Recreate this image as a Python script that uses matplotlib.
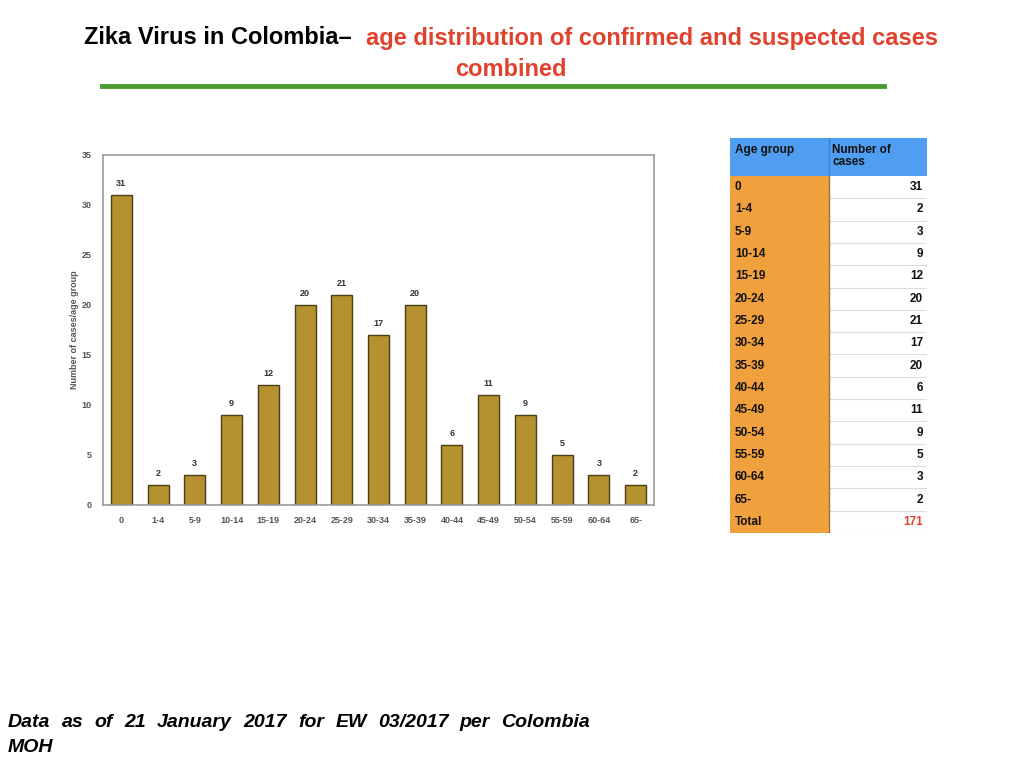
import matplotlib
matplotlib.use("Agg")
import matplotlib.pyplot as plt
from matplotlib.patches import Rectangle

# data
age_groups = ["0", "1-4", "5-9", "10-14", "15-19", "20-24", "25-29", "30-34",
              "35-39", "40-44", "45-49", "50-54", "55-59", "60-64", "65-"]
cases = [31, 2, 3, 9, 12, 20, 21, 17, 20, 6, 11, 9, 5, 3, 2]
total = 171

title_black = "Zika Virus in Colombia\u2013  "
title_red = "age distribution of confirmed and suspected cases"
title_red2 = "combined"
footer = "Data as of 21 January 2017 for EW 03/2017 per Colombia"
footer2 = "MOH"

BAR = "#b5922f"
EDGE = "#4a3d18"
GRAY = "#555555"
BLUE = "#4f9ef2"
ORANGE = "#f0a03c"
RED = "#e0432d"

plt.rcParams['font.family'] = ['Liberation Sans', 'DejaVu Sans']

fig = plt.figure(figsize=(10.24, 7.68), dpi=100)
r = fig.canvas.get_renderer()

# title, two colours on the first line
t1 = fig.text(0, 1 - 38/768, title_black, fontsize=17, fontweight='bold', color='black', va='center')
t2 = fig.text(0, 1 - 38/768, title_red, fontsize=17, fontweight='bold', color=RED, va='center')
w1 = t1.get_window_extent(r).width / 1024
w2 = t2.get_window_extent(r).width / 1024
x0 = 511/1024 - (w1 + w2) / 2
t1.set_x(x0)
t2.set_x(x0 + w1)
fig.text(511/1024, 1 - 70/768, title_red2, fontsize=17, fontweight='bold', color=RED, ha='center', va='center')
fig.add_artist(plt.Line2D([102/1024, 884/1024], [1 - 86/768] * 2, color="#4a9a2e", lw=3.5))

# bar chart
ax = fig.add_axes([103/1024, 263/768, 551/1024, 350/768])
xs = range(len(age_groups))
ax.bar(xs, cases, width=0.57, color=BAR, edgecolor=EDGE, linewidth=1.0)
for x, v in zip(xs, cases):
    ax.text(x, v + 0.7, str(v), ha='center', va='bottom', fontsize=6.5, fontweight='bold', color='#333333')
ax.set_xlim(-0.5, len(age_groups) - 0.5)
ax.set_ylim(0, 35)
ax.set_yticks(range(0, 36, 5))
ax.set_xticks(list(xs))
ax.set_xticklabels(age_groups)
ax.tick_params(length=0, labelsize=6.5, colors=GRAY, pad=8)
ax.tick_params(axis='y', pad=8)
for lab in ax.get_xticklabels() + ax.get_yticklabels():
    lab.set_fontweight('bold')
ax.set_ylabel("Number of cases/age group", fontsize=6.5, color=GRAY, fontweight='bold', labelpad=2)
for s in ax.spines.values():
    s.set_color("#999999")
    s.set_linewidth(1.2)

# table
tx = fig.add_axes([730/1024, 235/768, 197/1024, 395/768])
head = 1.7
nrows = len(age_groups) + 1
tx.set_xlim(0, 2)
tx.set_ylim(nrows + head, 0)
tx.axis('off')
tx.add_patch(Rectangle((0, 0), 2, head, color=BLUE, lw=0))
tx.plot([1, 1], [0, head], color="#3b7fc8", lw=1)
tx.text(0.05, 0.25, "Age group", fontsize=8.5, fontweight='bold', va='top', color='#111111')
tx.text(1.04, 0.25, "Number of\ncases", fontsize=8.5, fontweight='bold', va='top', color='#111111', linespacing=1.05)
labels = age_groups + ["Total"]
values = cases + [total]
for i, (lab, v) in enumerate(zip(labels, values)):
    y = head + i
    tx.add_patch(Rectangle((0, y), 1, 1, color=ORANGE, lw=0))
    tx.plot([1, 2], [y + 1, y + 1], color="#dddddd", lw=0.8)
    tx.text(0.05, y + 0.5, lab, fontsize=8.5, fontweight='bold', va='center', color='#111111')
    tx.text(1.96, y + 0.5, str(v), fontsize=8.5, fontweight='bold', va='center', ha='right',
            color=RED if lab == "Total" else '#111111')
tx.plot([1, 1], [head, nrows + head], color="#a07030", lw=1)

# footer, justified first line
words = footer.split()
fy = 1 - 727/768
left, right = 8/1024, 590/1024
ts = [fig.text(0, fy, w, fontsize=14, fontweight='bold', style='italic', va='baseline') for w in words]
ws = [t.get_window_extent(r).width / 1024 for t in ts]
gap = (right - left - sum(ws)) / (len(words) - 1)
xpos = left
for t, w in zip(ts, ws):
    t.set_x(xpos)
    xpos += w + gap
fig.text(left, 1 - 752/768, footer2, fontsize=14, fontweight='bold', style='italic', va='baseline')

fig.savefig("out.png", dpi=100)
